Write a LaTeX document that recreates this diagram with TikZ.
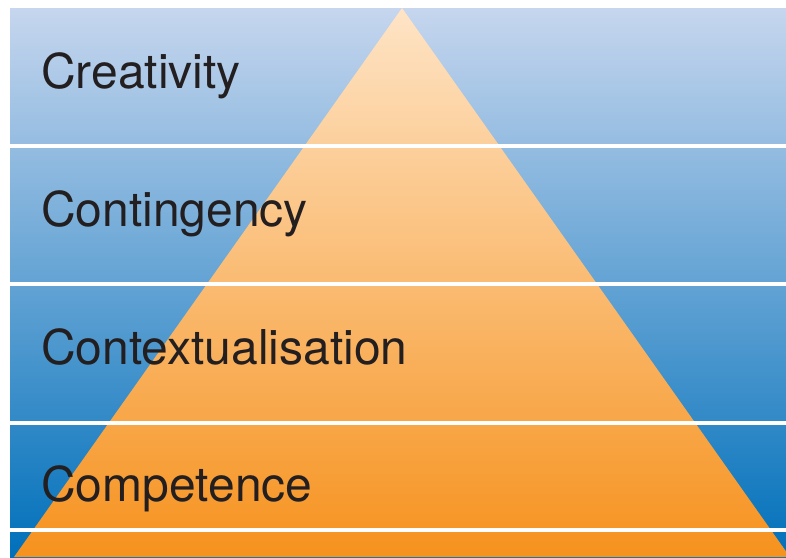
\documentclass[tikz,border=0pt]{standalone}
\usepackage{fontspec}
\setmainfont{TeX Gyre Heros}
\usetikzlibrary{positioning}
\definecolor{skytop}{RGB}{198,214,238}
\definecolor{skybot}{RGB}{0,112,186}
\definecolor{peachtop}{RGB}{254,228,198}
\definecolor{peachbot}{RGB}{246,146,30}
\definecolor{inkblack}{RGB}{35,31,32}

\begin{document}
\begin{tikzpicture}[x=1pt, y=-1pt,
		level/.style={anchor=base west, inner sep=0pt, text=inkblack, font=\fontsize{48}{50}\selectfont},
		sepline/.style={white, line width=4pt}]
		\useasboundingbox (0,0) rectangle (786,557);
		
		% background
		\shade[top color=skytop, bottom color=skybot] (10,8) rectangle (786,557);
		
		% pyramid
		\begin{scope}
			\clip (10,8) rectangle (786,557);
			\shade[top color=peachtop, bottom color=peachbot] (402,8) -- (790,557) -- (14,557) -- cycle;
		\end{scope}
		
		% separators
		\foreach \y in {145.5, 284, 423, 530}
			\draw[sepline] (10,\y) -- (786,\y);
		
		\node[level] (creativity) at (41,88.5) {Creativity};
		\node[level] (contingency) at (41,226.5) {Contingency};
		\node[level] (context) at (41,364.5) {Contextualisation};
		\node[level] (competence) at (41,501.5) {Competence};
		
	\end{tikzpicture}
\end{document}
